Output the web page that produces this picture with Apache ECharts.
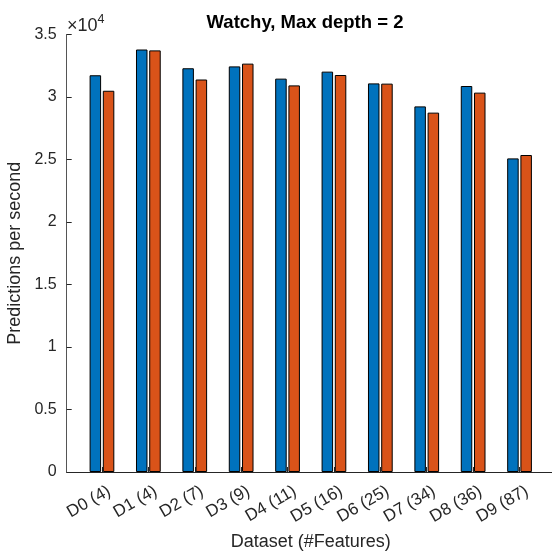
<!DOCTYPE html>
<html>
<head>
<meta charset="utf-8">
<script src="https://cdn.jsdelivr.net/npm/echarts@6/dist/echarts.min.js"></script>
<style>
  html, body { margin: 0; padding: 0; background: #fff; }
  #chart { width: 552px; height: 552px; }
</style>
</head>
<body>
<div id="chart"></div>
<script>
// data
var categories = ['D0 (4)', 'D1 (4)', 'D2 (7)', 'D3 (9)', 'D4 (11)', 'D5 (16)', 'D6 (25)', 'D7 (34)', 'D8 (36)', 'D9 (87)'];
var seriesA = [31740, 33800, 32300, 32450, 31470, 32030, 31090, 29250, 30880, 25090];
var seriesB = [30500, 33730, 31400, 32670, 30930, 31760, 31070, 28750, 30350, 25360];

var font = "'Liberation Sans', Arial, sans-serif";
var ink = '#262626';

function pairs(values) {
    return values.map(function (v, i) { return [i, v]; });
}

var idx = categories.map(function (c, i) { return i; });
// matlab anchors the rotated labels at their top-right corner, so nudge them a bit right
var labelPos = idx.map(function (i) { return i + 0.16; });

var myChart = echarts.init(document.getElementById('chart'));
var option = {
    animation: false,
    title: {
        text: 'Watchy, Max depth = 2',
        left: 300,
        textAlign: 'center',
        top: 8,
        textStyle: { color: '#000', fontSize: 18.5, fontWeight: 'bold', fontFamily: font }
    },
    // keep the plot box fixed, the axis runs a little past the right edge like the original
    grid: { left: 66.7, right: -2.8, top: 34.5, bottom: 80, containLabel: false, outerBoundsMode: 'none' },
    xAxis: {
        type: 'value',
        min: -0.76,
        max: 9.76,
        name: 'Dataset (#Features)',
        nameLocation: 'middle',
        nameGap: 61,
        nameTextStyle: { color: ink, fontSize: 18, fontFamily: font },
        axisLine: { show: true, onZero: false, lineStyle: { color: ink, width: 1 } },
        axisTick: { show: true, inside: true, length: 5, customValues: idx, lineStyle: { color: ink } },
        axisLabel: {
            customValues: labelPos,
            rotate: 30,
            margin: 18,
            color: ink,
            fontSize: 17,
            fontFamily: font,
            formatter: function (v) { return categories[Math.round(v)]; }
        },
        splitLine: { show: false }
    },
    yAxis: {
        type: 'value',
        min: 0,
        max: 35000,
        interval: 5000,
        name: 'Predictions per second',
        nameLocation: 'middle',
        nameGap: 43,
        nameTextStyle: { color: ink, fontSize: 18, fontFamily: font },
        axisLine: { show: true, onZero: false, lineStyle: { color: '#555', width: 1 } },
        axisTick: { show: true, inside: true, length: 5, lineStyle: { color: ink } },
        axisLabel: {
            color: ink,
            fontSize: 16,
            fontFamily: font,
            margin: 10,
            formatter: function (v) { return String(v / 10000); }
        },
        splitLine: { show: false }
    },
    graphic: [{
        type: 'text',
        left: 67,
        top: 13,
        style: {
            text: '{a|×10}{s|4}',
            rich: {
                a: { fontSize: 18, fontFamily: font, fill: ink, verticalAlign: 'bottom', lineHeight: 22 },
                s: { fontSize: 12.5, fontFamily: font, fill: ink, verticalAlign: 'top', lineHeight: 22, padding: [0, 0, 10, 0] }
            }
        }
    }],
    series: [
        {
            name: 'Series 1',
            type: 'bar',
            barWidth: 11.5,
            barGap: '15%',
            data: pairs(seriesA),
            itemStyle: { color: '#0072BD', borderColor: '#000', borderWidth: 1 }
        },
        {
            name: 'Series 2',
            type: 'bar',
            barWidth: 11.5,
            barGap: '15%',
            data: pairs(seriesB),
            itemStyle: { color: '#D95319', borderColor: '#000', borderWidth: 1 }
        }
    ]
};
myChart.setOption(option);
window.addEventListener('resize', function () {
    myChart.resize();
});
</script>
</body>
</html>
